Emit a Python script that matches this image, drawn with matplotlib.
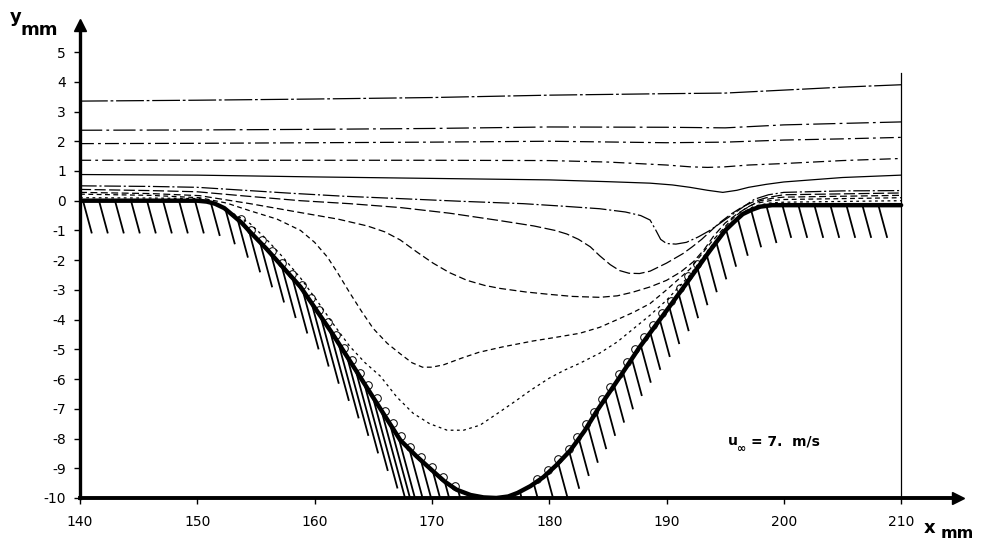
import numpy as np
import matplotlib
matplotlib.use('Agg')
import matplotlib.pyplot as plt

plt.rcParams['font.family'] = ['DejaVu Sans']
plt.rcParams['axes.unicode_minus'] = False
plt.rcParams['lines.scale_dashes'] = False

# ---------------- data ----------------
xtick_vals = [140, 150, 160, 170, 180, 190, 200, 210]
xtick_labels = ['140', '150', '160', '170', '180', '190', '200', '210']
ytick_vals = [-10, -9, -8, -7, -6, -5, -4, -3, -2, -1, 0, 1, 2, 3, 4, 5]
ytick_labels = ['-10', '-9', '-8', '-7', '-6', '-5', '-4', '-3', '-2', '-1',
                '0', '1', '2', '3', '4', '5']

# wall profile (thick line)
wall_x = [140, 150, 150.8, 151.5, 152.3, 153, 153.8, 154.5, 155.9, 158.8, 161.4,
          163.9, 167.3, 168.7, 170.1, 171.1, 172.1, 173.3, 174.4, 175.5, 176.5,
          177.3, 178.4, 179.5, 180.6, 181.8, 183, 184.1, 185.9, 187.7, 190, 191.7,
          193.7, 195, 195.8, 196.5, 197.3, 198, 199, 210]
wall_y = [0, 0, -0.03, -0.1, -0.25, -0.48, -0.75, -1.05, -1.62, -2.9, -4.4,
          -5.94, -8.05, -8.6, -9.1, -9.45, -9.72, -9.9, -9.98, -10.0, -9.95,
          -9.83, -9.6, -9.3, -8.9, -8.4, -7.75, -7.05, -6.0, -4.93, -3.7, -2.78,
          -1.68, -1.0, -0.7, -0.45, -0.3, -0.2, -0.15, -0.15]

# streamlines
s1_x = [140, 150, 160, 170, 180, 190, 195, 200, 205, 210]
s1_y = [3.35, 3.38, 3.42, 3.47, 3.55, 3.60, 3.62, 3.72, 3.82, 3.90]
s2_x = [140, 150, 160, 170, 180, 190, 195, 200, 205, 210]
s2_y = [2.37, 2.38, 2.40, 2.43, 2.48, 2.47, 2.45, 2.55, 2.60, 2.65]
s3_x = [140, 150, 160, 170, 180, 190, 195, 200, 205, 210]
s3_y = [1.92, 1.93, 1.95, 1.97, 2.00, 1.95, 1.97, 2.04, 2.08, 2.13]
s4_x = [140, 150, 160, 170, 180, 185, 188, 190, 192, 193.5, 195, 197, 200, 205, 210]
s4_y = [1.36, 1.36, 1.36, 1.36, 1.35, 1.30, 1.24, 1.20, 1.14, 1.12, 1.14, 1.20,
        1.25, 1.35, 1.42]
s5_x = [140, 150, 160, 170, 180, 185, 188.6, 190.5, 192, 193.5, 194.8, 196, 197,
        198.5, 200, 205, 210]
s5_y = [0.88, 0.86, 0.80, 0.75, 0.70, 0.64, 0.59, 0.53, 0.45, 0.35, 0.28, 0.35,
        0.45, 0.55, 0.63, 0.78, 0.86]
s6_x = [140, 146, 150, 154, 158, 162.5, 167.3, 172.5, 177.8, 181, 184.3, 186.5,
        187.8, 188.6, 189.1, 189.5, 190, 190.8, 191.7, 192.7, 193.7, 194.6, 195.5,
        196.5, 197.5, 198.7, 200, 205, 210]
s6_y = [0.50, 0.48, 0.45, 0.35, 0.25, 0.15, 0.07, -0.02, -0.10, -0.18, -0.27,
        -0.38, -0.50, -0.65, -1.0, -1.3, -1.44, -1.46, -1.40, -1.22, -1.0, -0.75,
        -0.5, -0.22, 0.05, 0.20, 0.28, 0.33, 0.34]
s7_x = [140, 146, 150, 154, 158.8, 163, 167.3, 171.5, 175.8, 178.7, 180.5, 181.5,
        182.5, 183.5, 184.3, 185.2, 186, 186.8, 187.7, 188.6, 190, 191.4, 192.2,
        193, 194.5, 195.5, 196.5, 197.5, 198.5, 200, 210]
s7_y = [0.38, 0.34, 0.30, 0.16, 0.0, -0.10, -0.23, -0.42, -0.67, -0.85, -1.0,
        -1.12, -1.30, -1.55, -1.85, -2.15, -2.35, -2.44, -2.45, -2.37, -2.10,
        -1.78, -1.55, -1.30, -0.75, -0.45, -0.20, -0.02, 0.10, 0.20, 0.26]
s8_x = [140, 146, 150.2, 154.5, 158.8, 162, 164.5, 166, 167.3, 168.7, 170.1,
        171.5, 173, 174.5, 175.8, 178, 180, 182, 184.3, 185.8, 187.1, 188.6, 190,
        191.2, 192.3, 193.2, 194, 195, 196, 197, 198, 199, 200, 210]
s8_y = [0.28, 0.24, 0.17, -0.10, -0.40, -0.62, -0.85, -1.05, -1.32, -1.72, -2.10,
        -2.42, -2.68, -2.85, -2.95, -3.07, -3.15, -3.22, -3.25, -3.20, -3.08,
        -2.90, -2.68, -2.40, -2.05, -1.65, -1.20, -0.75, -0.45, -0.20, 0.0, 0.08,
        0.12, 0.18]
s9_x = [140, 146, 150.2, 152.5, 154.5, 156.8, 158.8, 160, 161.1, 162, 163, 164,
        165, 166.2, 167.3, 168.3, 169.2, 170, 171, 172.5, 174, 176, 178.6, 180.5,
        182.6, 184.3, 185.8, 187.2, 188.6, 190, 191, 192, 193.7, 195.5, 196.5,
        197.5, 198.8, 200, 210]
s9_y = [0.22, 0.18, 0.10, -0.08, -0.34, -0.62, -1.0, -1.4, -1.9, -2.45, -3.1,
        -3.72, -4.3, -4.8, -5.15, -5.45, -5.6, -5.6, -5.52, -5.3, -5.1, -4.92,
        -4.72, -4.6, -4.46, -4.26, -4.0, -3.75, -3.46, -3.0, -2.65, -2.3, -1.45,
        -0.65, -0.32, -0.10, 0.0, 0.04, 0.10]
s10_x = [140, 146, 150.2, 152.3, 154.5, 155.9, 157.3, 158.8, 160.2, 161.6, 163,
         164.3, 165.6, 167, 168.4, 169.8, 171.3, 172.7, 174.1, 175.8, 177.2, 178.4,
         180, 181.3, 182.6, 184.3, 185.8, 187.2, 188.6, 190, 192, 193.7, 195.5,
         196.5, 197.5, 198.8, 200, 210]
s10_y = [0.10, 0.09, 0.07, -0.25, -0.77, -1.3, -1.9, -2.6, -3.36, -4.15, -4.9,
         -5.45, -5.9, -6.6, -7.15, -7.5, -7.72, -7.72, -7.55, -7.1, -6.72, -6.38,
         -5.97, -5.7, -5.47, -5.13, -4.75, -4.3, -3.85, -3.35, -2.5, -1.58, -0.75,
         -0.4, -0.18, -0.08, -0.05, 0.0]

frame_x = 210
frame_top = 4.3
velocity_text = '= 7.  m/s'

# ---------------- figure ----------------
W, H = 986, 544
fig = plt.figure(figsize=(W / 100, H / 100), dpi=100, facecolor='white')
ax_l, ax_r, ax_b, ax_t = 80, 958, 498, 25
ax = fig.add_axes([ax_l / W, (H - ax_b) / H, (ax_r - ax_l) / W, (ax_b - ax_t) / H])
xmin, xmax = 140, 140 + (ax_r - ax_l) / 11.73
ymin, ymax = -10, -10 + (ax_b - ax_t) / 29.73
ax.set_xlim(xmin, xmax)
ax.set_ylim(ymin, ymax)
sx = (ax_r - ax_l) / (xmax - xmin)
sy = (ax_b - ax_t) / (ymax - ymin)

streams = [
    (s1_x, s1_y, (0, (20, 2, 2, 2))),
    (s2_x, s2_y, (0, (16, 3, 2, 3))),
    (s3_x, s3_y, (0, (10, 3, 2, 3))),
    (s4_x, s4_y, (0, (8, 3, 2, 3))),
    (s5_x, s5_y, '-'),
    (s6_x, s6_y, (0, (12, 2, 1.5, 2))),
    (s7_x, s7_y, (0, (8, 2.5))),
    (s8_x, s8_y, (0, (5, 2.5))),
    (s9_x, s9_y, (0, (3.5, 2.5))),
    (s10_x, s10_y, (0, (2, 2.5))),
]
for xs, ys, ls in streams:
    ax.plot(xs, ys, color='black', lw=0.9, linestyle=ls, zorder=3,
            solid_joinstyle='round', dash_joinstyle='round')

# wall hatching
wx = np.array(wall_x, float)
wy = np.array(wall_y, float)
xd = np.linspace(wx[0], wx[-1], 4000)
yd = np.interp(xd, wx, wy)
arc = np.concatenate([[0], np.cumsum(np.hypot(np.diff(xd) * sx, np.diff(yd) * sy))])
for s in np.arange(3, arc[-1], 16.0):
    xh = np.interp(s, arc, xd)
    yh = np.interp(s, arc, yd)
    if xh > 209.0:
        continue
    if 151 < xh < 175:
        L = 1.1 + 0.3 * abs(yh)
    elif 175 <= xh < 199:
        L = 1.25
    else:
        L = 1.1
    ax.plot([xh, xh + 0.27 * L * sy / sx], [yh, yh - L], color='black', lw=1.3,
            zorder=2, solid_capstyle='butt')

# small loops along the sloped wall
for s in np.arange(0, arc[-1], 15.0):
    xh = np.interp(s, arc, xd)
    if not ((153 < xh < 172) or (178 < xh < 193)):
        continue
    yh = np.interp(s, arc, yd)
    i = np.searchsorted(xd, xh)
    tx = (xd[min(i + 5, len(xd) - 1)] - xd[max(i - 5, 0)]) * sx
    ty = (yd[min(i + 5, len(xd) - 1)] - yd[max(i - 5, 0)]) * sy
    n = np.hypot(tx, ty)
    nx, ny = -ty / n, tx / n
    if ny < 0:
        nx, ny = -nx, -ny
    ax.plot(xh + 2.5 * nx / sx, yh + 2.5 * ny / sy, marker='o', ms=5.5, mfc='none',
            mec='black', mew=0.7, zorder=4)

ax.plot(wall_x, wall_y, color='black', lw=3.2, zorder=5, solid_capstyle='round',
        solid_joinstyle='round')

# right frame line
ax.plot([frame_x, frame_x], [ymin, frame_top], color='black', lw=0.9, zorder=3)

# axes styling
for side in ['top', 'right']:
    ax.spines[side].set_visible(False)
ax.spines['left'].set_linewidth(2.4)
ax.spines['bottom'].set_linewidth(2.8)
ax.set_xticks(xtick_vals, xtick_labels)
ax.set_yticks(ytick_vals, ytick_labels)
ax.tick_params(axis='both', direction='out', length=4, width=1, labelsize=10,
               colors='black')
ax.tick_params(axis='x', pad=8)
ax.tick_params(axis='y', pad=6)
ax.plot([0], [1], marker='^', ms=8, color='black', transform=ax.transAxes,
        clip_on=False, zorder=6)
ax.plot([1], [0], marker='>', ms=8, color='black', transform=ax.transAxes,
        clip_on=False, zorder=6)

# axis labels
fig.text(10 / W, 1 - 22 / H, 'y', fontsize=13, fontweight='bold', va='baseline')
fig.text(21 / W, 1 - 35 / H, 'mm', fontsize=13, fontweight='bold', va='baseline')
fig.text(924 / W, 1 - 533 / H, 'x', fontsize=13, fontweight='bold', va='baseline')
fig.text(941 / W, 1 - 538 / H, 'mm', fontsize=11.5, fontweight='bold', va='baseline')

# annotation
ax.text(195.2, -8.22, 'u', fontsize=10, fontweight='bold', va='baseline')
ax.text(196.05, -8.45, '\u221e', fontsize=8, fontweight='bold', va='baseline')
ax.text(197.2, -8.22, velocity_text, fontsize=10, fontweight='bold', va='baseline')

fig.savefig('out.png', dpi=100, facecolor='white')
